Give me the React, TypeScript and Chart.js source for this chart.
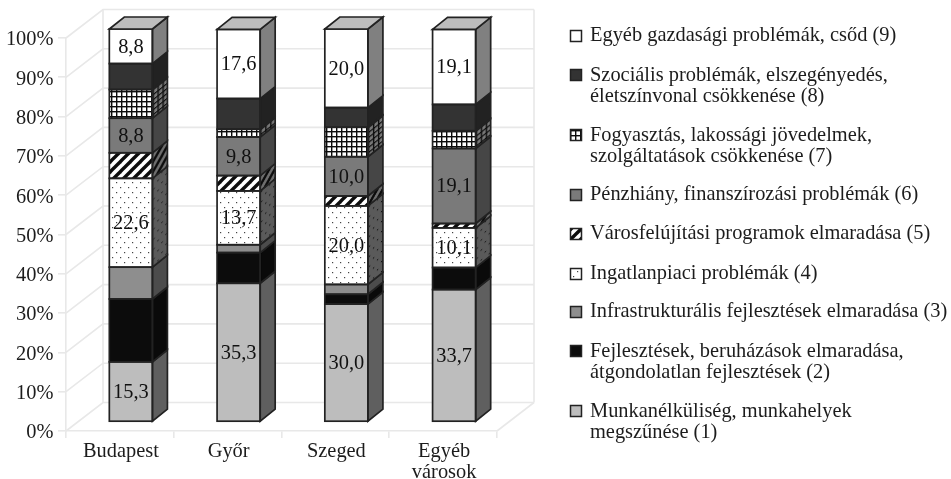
import React, { useEffect, useRef } from "react";
import { Chart, registerables } from "chart.js";

Chart.register(...registerables);

const categories = ["Budapest", "Győr", "Szeged", ["Egyéb", "városok"]];

const munkanelkuliseg = [15.3, 35.3, 30.0, 33.7];
const fejlesztesek = [16.0, 7.8, 2.5, 5.6];
const infrastruktura = [8.1, 2.0, 2.5, 0];
const ingatlan = [22.6, 13.7, 20.0, 10.1];
const varosfelujitas = [6.5, 3.9, 2.5, 1.1];
const penzhiany = [8.8, 9.8, 10.0, 19.1];
const fogyasztas = [7.3, 2.0, 7.5, 4.5];
const szocialis = [6.6, 7.8, 5.0, 6.7];
const egyeb = [8.8, 17.6, 20.0, 19.1];

const labels1 = ["Munkanélküliség, munkahelyek", "megszűnése (1)"];
const labels2 = ["Fejlesztések, beruházások elmaradása,", "átgondolatlan fejlesztések (2)"];
const labels3 = ["Infrastrukturális fejlesztések elmaradása (3)"];
const labels4 = ["Ingatlanpiaci problémák (4)"];
const labels5 = ["Városfelújítási programok elmaradása (5)"];
const labels6 = ["Pénzhiány, finanszírozási problémák (6)"];
const labels7 = ["Fogyasztás, lakossági jövedelmek,", "szolgáltatások csökkenése (7)"];
const labels8 = ["Szociális problémák, elszegényedés,", "életszínvonal csökkenése (8)"];
const labels9 = ["Egyéb gazdasági problémák, csőd (9)"];

const FONT = '"Liberation Serif", "Times New Roman", serif';
const FONT_SIZE = 20.4;
const INK = "#1c1c1c";
const GRID = "#e8e8e8";
const BAR_DX = 11;
const BAR_DY = -9;
const SIDE_DX = 15;
const SIDE_DY = -12;
const WALL_DX = 37;
const WALL_DY = -28.5;

function tile(w: number, h: number, paint: (c: CanvasRenderingContext2D) => void): CanvasPattern {
  const cv = document.createElement("canvas");
  cv.width = w;
  cv.height = h;
  const c = cv.getContext("2d")!;
  paint(c);
  return c.createPattern(cv, "repeat")!;
}

const dots = (bg: string, dot: string) =>
  tile(8, 10, (c) => {
    c.fillStyle = bg;
    c.fillRect(0, 0, 8, 10);
    c.fillStyle = dot;
    c.fillRect(1, 1, 1.2, 1.2);
    c.fillRect(5, 6, 1.2, 1.2);
  });

const stripes = (bg: string, fg: string) =>
  tile(10, 10, (c) => {
    c.fillStyle = bg;
    c.fillRect(0, 0, 10, 10);
    c.strokeStyle = fg;
    c.lineWidth = 3.4;
    for (let k = -10; k <= 20; k += 10) {
      c.beginPath();
      c.moveTo(k - 2, 12);
      c.lineTo(k + 12, -2);
      c.stroke();
    }
  });

const hatch = (bg: string, fg: string) =>
  tile(5, 5, (c) => {
    c.fillStyle = bg;
    c.fillRect(0, 0, 5, 5);
    c.fillStyle = fg;
    c.fillRect(0, 0, 5, 1.4);
    c.fillRect(0, 0, 1.4, 5);
  });

function fmt(v: number) {
  return v.toFixed(1).replace(".", ",");
}

const App = () => {
  const ref = useRef<HTMLCanvasElement | null>(null);

  useEffect(() => {
    const series = [
      { label: labels1, data: munkanelkuliseg, front: "#bdbdbd", side: "#5f5f5f", legendFill: "#bdbdbd", show: true },
      { label: labels2, data: fejlesztesek, front: "#0c0c0c", side: "#0a0a0a", legendFill: "#0c0c0c", show: false },
      { label: labels3, data: infrastruktura, front: "#8e8e8e", side: "#4c4c4c", legendFill: "#8e8e8e", show: false },
      { label: labels4, data: ingatlan, front: dots("#ffffff", "#444444"), side: dots("#5a5a5a", "#111111"), legendFill: dots("#ffffff", "#444444"), show: true },
      { label: labels5, data: varosfelujitas, front: stripes("#ffffff", "#0c0c0c"), side: stripes("#6e6e6e", "#0c0c0c"), legendFill: stripes("#ffffff", "#0c0c0c"), show: false },
      { label: labels6, data: penzhiany, front: "#7a7a7a", side: "#464646", legendFill: "#7a7a7a", show: true },
      { label: labels7, data: fogyasztas, front: hatch("#ffffff", "#0c0c0c"), side: hatch("#777777", "#0c0c0c"), legendFill: hatch("#ffffff", "#0c0c0c"), show: false },
      { label: labels8, data: szocialis, front: "#333333", side: "#222222", legendFill: "#333333", show: false },
      { label: labels9, data: egyeb, front: "#ffffff", side: "#808080", legendFill: "#ffffff", show: true },
    ];

    const wall = {
      id: "wall3d",
      beforeDatasetsDraw(chart: any) {
        const { ctx, chartArea: a, scales } = chart;
        ctx.save();
        ctx.strokeStyle = GRID;
        ctx.lineWidth = 1.6;
        const line = (pts: number[][]) => {
          ctx.beginPath();
          pts.forEach((p, i) => (i ? ctx.lineTo(p[0], p[1]) : ctx.moveTo(p[0], p[1])));
          ctx.stroke();
        };
        const bx = a.left + WALL_DX;
        const brx = a.right + WALL_DX;
        scales.y.ticks.forEach((t: any) => {
          const y = scales.y.getPixelForValue(t.value);
          line([[a.left, y], [bx, y + WALL_DY], [brx, y + WALL_DY]]);
        });
        line([[a.right, a.bottom], [brx, a.bottom + WALL_DY]]);
        line([[bx, a.top + WALL_DY], [bx, a.bottom + WALL_DY]]);
        line([[brx, a.top + WALL_DY], [brx, a.bottom + WALL_DY]]);
        ctx.restore();
        ctx.save();
        ctx.translate(BAR_DX, BAR_DY);
      },
      afterDatasetsDraw(chart: any) {
        const { ctx } = chart;
        ctx.strokeStyle = "#222222";
        ctx.lineWidth = 1.7;
        ctx.lineJoin = "miter";
        const n = chart.data.labels.length;
        for (let i = 0; i < n; i++) {
          let topEl: any = null;
          series.forEach((s, d) => {
            const el = chart.getDatasetMeta(d).data[i];
            if (!s.data[i]) return;
            topEl = el;
            const half = el.width / 2;
            const xr = el.x + half;
            const top = el.y;
            const bot = el.base;
            ctx.save();
            ctx.beginPath();
            ctx.moveTo(xr, top);
            ctx.lineTo(xr + SIDE_DX, top + SIDE_DY);
            ctx.lineTo(xr + SIDE_DX, bot + SIDE_DY);
            ctx.lineTo(xr, bot);
            ctx.closePath();
            ctx.clip();
            ctx.transform(1, SIDE_DY / SIDE_DX, 0, 1, xr, top);
            ctx.fillStyle = s.side;
            ctx.fillRect(-1, -60, SIDE_DX + 2, bot - top + 120);
            ctx.restore();
            ctx.beginPath();
            ctx.moveTo(xr, top);
            ctx.lineTo(xr + SIDE_DX, top + SIDE_DY);
            ctx.lineTo(xr + SIDE_DX, bot + SIDE_DY);
            ctx.lineTo(xr, bot);
            ctx.closePath();
            ctx.stroke();
            ctx.strokeRect(el.x - half, top, el.width, bot - top);
          });
          if (topEl) {
            const half = topEl.width / 2;
            const l = topEl.x - half;
            const r = topEl.x + half;
            const t = topEl.y;
            ctx.beginPath();
            ctx.moveTo(l, t);
            ctx.lineTo(l + SIDE_DX, t + SIDE_DY);
            ctx.lineTo(r + SIDE_DX, t + SIDE_DY);
            ctx.lineTo(r, t);
            ctx.closePath();
            ctx.fillStyle = "#bdbdbd";
            ctx.fill();
            ctx.stroke();
          }
        }
        ctx.fillStyle = "#111111";
        ctx.font = `${FONT_SIZE}px ${FONT}`;
        ctx.textAlign = "center";
        ctx.textBaseline = "middle";
        series.forEach((s, d) => {
          if (!s.show) return;
          chart.getDatasetMeta(d).data.forEach((el: any, i: number) => {
            ctx.fillText(fmt(s.data[i]), el.x, (el.y + el.base) / 2 + 1);
          });
        });
        ctx.restore();
      },
    };

    const legendRows = [422, 362, 312, 274, 234, 195, 146, 86, 36];
    const legend = {
      id: "sideLegend",
      afterDraw(chart: any) {
        const { ctx, scales } = chart;
        ctx.save();
        ctx.textBaseline = "middle";
        ctx.font = `${FONT_SIZE}px ${FONT}`;
        ctx.textAlign = "right";
        ctx.fillStyle = INK;
        scales.y.ticks.forEach((t: any) => {
          ctx.fillText(t.label, 53.5, scales.y.getPixelForValue(t.value) + 2);
        });
        ctx.textAlign = "left";
        series.forEach((s, d) => {
          const cy = legendRows[d];
          const lines = s.label;
          const my = lines.length > 1 ? cy - 11 : cy;
          ctx.fillStyle = s.legendFill;
          ctx.fillRect(570.5, my - 5.5, 11, 11);
          ctx.strokeStyle = "#222222";
          ctx.lineWidth = 1.5;
          ctx.strokeRect(570.5, my - 5.5, 11, 11);
          ctx.fillStyle = INK;
          lines.forEach((t: string, k: number) => {
            ctx.fillText(t, 590, cy + (k - (lines.length - 1) / 2) * 20.5);
          });
        });
        ctx.restore();
      },
    };

    const chart = new Chart(ref.current!, {
      type: "bar",
      data: {
        labels: categories as any,
        datasets: series.map((s) => ({
          label: s.label.join(" "),
          data: s.data,
          backgroundColor: s.front as any,
          borderWidth: 0,
          barPercentage: 0.8,
          categoryPercentage: 0.5,
        })),
      },
      options: {
        responsive: false,
        animation: false,
        layout: { padding: { top: 38, right: 454, bottom: 0, left: 0 } },
        plugins: { legend: { display: false }, tooltip: { enabled: false }, title: { display: false } },
        scales: {
          x: {
            stacked: true,
            afterFit: (s: any) => { s.height = 48; },
            grid: { drawOnChartArea: false, tickLength: 7, tickColor: GRID, lineWidth: 1.6 },
            border: { color: GRID, width: 1.6 },
            ticks: { color: INK, font: { family: FONT, size: FONT_SIZE, lineHeight: 1.05 }, padding: 3, labelOffset: 1, maxRotation: 0, autoSkip: false },
          },
          y: {
            stacked: true,
            min: 0,
            max: 100,
            afterFit: (s: any) => { s.width = 66; },
            grid: { drawOnChartArea: false, tickLength: 8, tickColor: GRID, lineWidth: 1.6 },
            border: { color: GRID, width: 1.6 },
            ticks: { stepSize: 10, color: "rgba(0,0,0,0)", font: { family: FONT, size: FONT_SIZE }, padding: 5, callback: (v: any) => `${v}%` },
          },
        },
      },
      plugins: [wall, legend],
    });
    return () => chart.destroy();
  }, []);

  return (
    <div style={{ position: "absolute", left: 0, top: 0, width: 951, height: 479, background: "#fff" }}>
      <canvas ref={ref} width={951} height={479} style={{ display: "block" }} />
    </div>
  );
};

export default App;
